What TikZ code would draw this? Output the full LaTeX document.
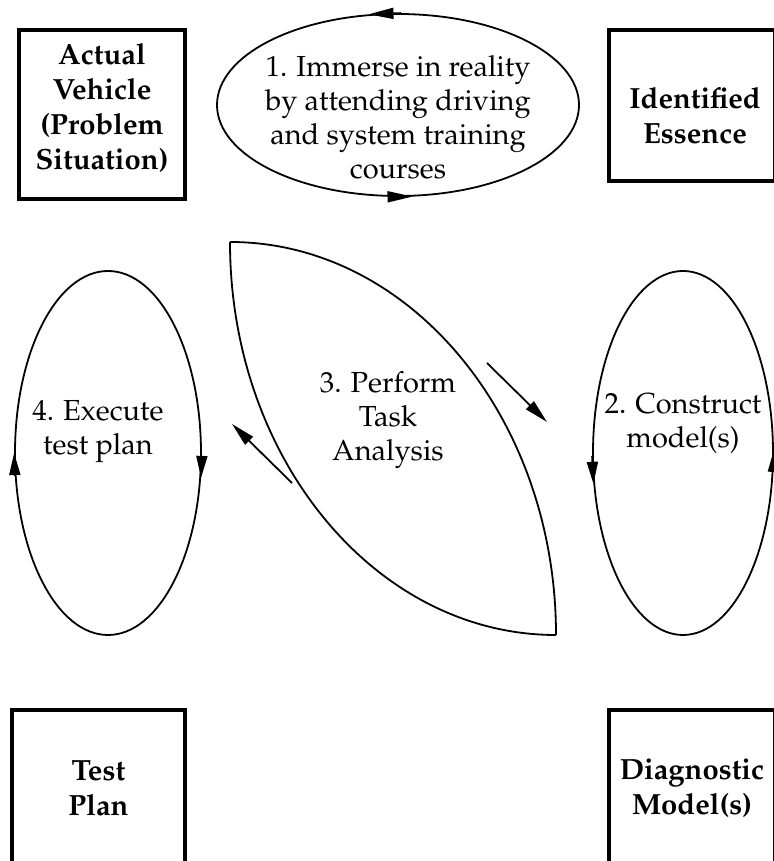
\documentclass[tikz,border=0pt]{standalone}
\usepackage[T1]{fontenc}
\usepackage{mathpazo}
\usetikzlibrary{shapes.geometric,arrows.meta}

\begin{document}
\begin{tikzpicture}[x=0.5pt, y=0.5pt,
 every text node part/.style={align=center},
 box/.style={rectangle, draw=black, line width=2.2pt, inner sep=0pt, font=\fontsize{14.6}{17.5}\selectfont\bfseries},
 boxtxt/.style={inner sep=0pt, font=\fontsize{14.6}{17.5}\selectfont\bfseries},
 loop/.style={ellipse, draw=black, line width=0.9pt, inner sep=0pt},
 str/.style={inner sep=0pt, font=\fontsize{14.5}{17}\selectfont},
 arrow/.style={-{Triangle[length=11pt, width=5.5pt]}, line width=0.9pt},
 leaf/.style={line width=0.9pt}]

\useasboundingbox (0,0) rectangle (773,861);

% corner boxes
\node[box, minimum width=83pt, minimum height=84.5pt,
 label={[boxtxt, yshift=3pt]center:Actual\\Vehicle\\(Problem\\Situation)}] (vehicle) at (102, 746.5) {};
\node[box, minimum width=83pt, minimum height=75.5pt,
 label={[boxtxt, yshift=-5pt, xshift=1.5pt]center:Identified\\Essence}] (essence) at (692, 755.5) {};
\node[box, minimum width=86.5pt, minimum height=78pt] (testplan) at (98.5, 73) {Test\\Plan};
\node[box, minimum width=83pt, minimum height=78pt] (diagmodel) at (692, 73) {Diagnostic\\Model(s)};

% 1. immerse
\node[loop, minimum width=181pt, minimum height=91pt] (immerse) at (398, 756) {};
\node[str] (immersetxt) at (398, 743.5) {1. Immerse in reality\\by attending driving\\and system training\\courses};
\draw (immerse.88) edge[arrow, -{Triangle[length=12.5pt, width=5.5pt]}] (immerse.108);
\draw (immerse.265) edge[arrow, -{Triangle[length=12.5pt, width=5.5pt]}] (immerse.279);

% 2. construct
\node[loop, minimum width=90pt, minimum height=182pt] (construct) at (683, 408) {};
\node[str] (constructtxt) at (683, 438) {2. Construct\\model(s)};
\draw (construct.182) edge[arrow] (construct.199);
\draw (construct.348) edge[arrow] (construct.2);

% 4. execute
\node[loop, minimum width=93pt, minimum height=182pt] (execute) at (108, 408) {};
\node[str] (executetxt) at (98, 429) {4. Execute\\test plan};
\draw (execute.194) edge[arrow] (execute.180);
\draw (execute.358) edge[arrow] (execute.345);

% 3. task analysis
\coordinate (leaftop) at (230, 619);
\coordinate (leafbot) at (556, 226);
\draw[leaf] (leaftop) arc[start angle=90, end angle=0, x radius=326, y radius=393];
\draw[leaf] (leaftop) arc[start angle=180, end angle=270, x radius=326, y radius=393];
\node[str] (tasktxt) at (388, 441) {3. Perform\\Task\\Analysis};

\coordinate (in1) at (487, 498);
\coordinate (in2) at (547, 439);
\coordinate (out1) at (292, 378);
\coordinate (out2) at (232, 437);
\draw (in1) edge[arrow, -{Triangle[length=12pt, width=5.5pt]}] (in2);
\draw (out1) edge[arrow, -{Triangle[length=12pt, width=5.5pt]}] (out2);

\end{tikzpicture}
\end{document}
